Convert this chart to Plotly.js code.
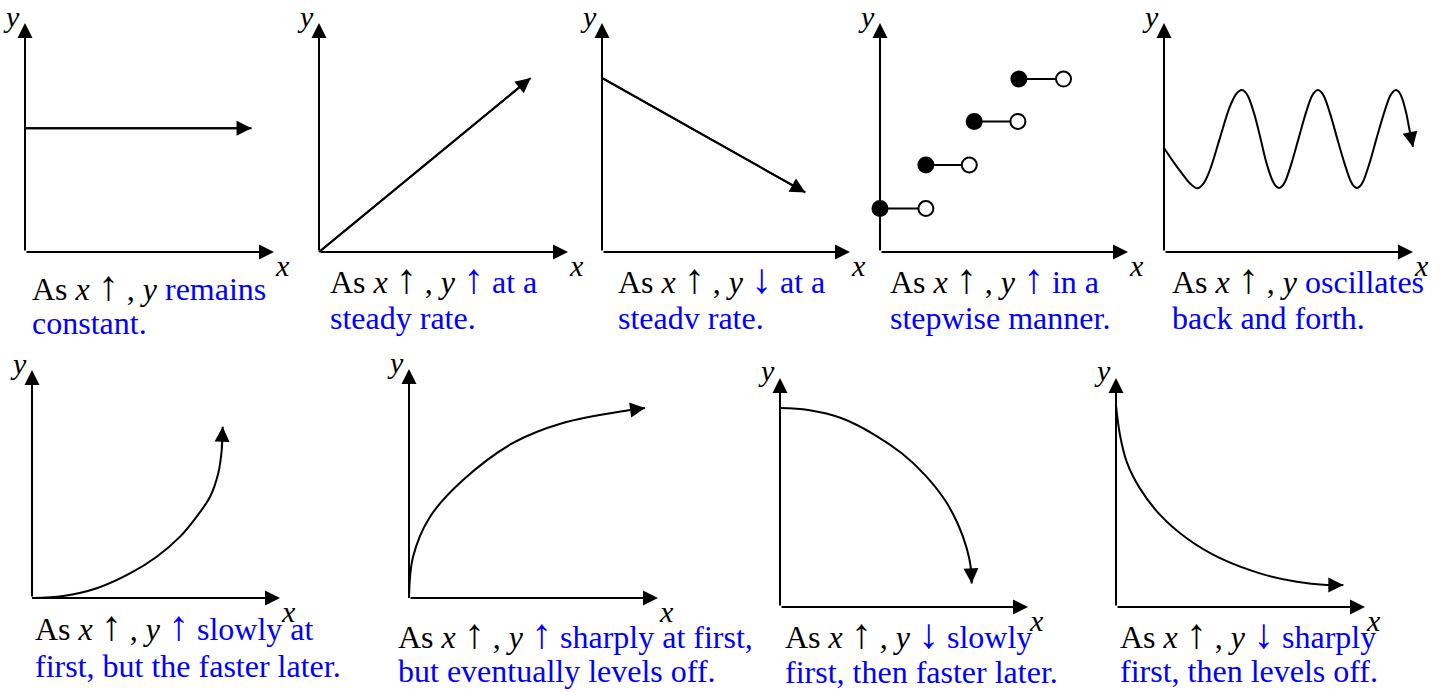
<!DOCTYPE html>
<html><head><meta charset="utf-8">
<script src="https://cdn.plot.ly/plotly-3.0.1.min.js"></script>
<style>html,body{margin:0;padding:0;background:#fff;overflow:hidden}#chart{width:1441px;height:692px}</style>
</head><body><div id="chart"></div>
<script>
// ---------- data (axis units: 0..100 from origin to axis arrow tip) ----------
// Panel 1: y remains constant
const constX = [0, 91];
const constY = [54, 54];
// Panel 2: y rises at a steady rate
const steadyUpX = [0, 85];
const steadyUpY = [0, 76];
// Panel 3: y falls at a steady rate
const steadyDownX = [0, 82];
const steadyDownY = [76, 26];
// Panel 4: stepwise
const stepStartX = [0, 18.5, 38, 56];
const stepEndX = [18.5, 36, 55.6, 74];
const stepY = [19, 38, 57, 75.5];
// Panel 5: oscillation (points read along the drawn wave)
const waveX = [0, 3.7, 7.8, 10.6, 13.4, 15.9, 18.4, 22.35,
  26.3, 28.8, 30.1, 31.3, 32.5, 33.8, 36.3, 38.8, 41.2, 43.7, 45, 46.2, 47.4, 48.7, 51.2, 54,
  56.8, 59.3, 60.6, 61.8, 63, 64.3, 66.8, 69.6, 72.5, 75, 76.3, 77.5, 78.7, 80, 82.5, 85.3,
  88.2, 90.7, 92, 93.2, 94.4, 95.6, 97.2, 98.6, 100];
const waveY = [45.4, 39.5, 33.5, 29.8, 27.8, 30.0, 35.7, 49.4,
  63.0, 68.7, 70.2, 70.7, 70, 67.9, 60.1, 49.4, 38.7, 30.9, 28.7, 28, 28.7, 30.9, 38.7, 49.4,
  60.1, 67.9, 70, 70.7, 70, 67.9, 60.1, 49.4, 38.7, 30.9, 28.7, 28, 28.7, 30.9, 38.7, 49.4,
  60.1, 67.9, 70, 70.7, 69.8, 67.2, 61, 53.3, 45.9];
// Panel 6: slowly at first, faster later
const growX = [0, 12.6, 26.1, 39.5, 50.3, 59.7, 66.4, 71.8, 75.1, 76.5, 76.9];
const growY = [0, 0.9, 4.3, 10.8, 18.1, 26.9, 35.7, 44.4, 54.7, 64.9, 75.1];
// Panel 7: sharply at first, levels off
const levelUpX = [0, 1.6, 8.4, 21.7, 41.8, 61.8, 88.8, 94.8];
const levelUpY = [0, 17.9, 35.4, 51.5, 67.7, 76.4, 82.1, 83];
// Panel 8: falls slowly first, faster later
const fallX = [0, 11.4, 24.9, 38.3, 49.1, 58.5, 66.5, 71.9, 75.3, 77.0, 77.3];
const fallY = [86.9, 86.0, 82.4, 75.1, 67.1, 57.6, 46.7, 35.8, 25.6, 16.9, 10.3];
// Panel 9: falls sharply first, levels off
const decayX = [0, 1.6, 4.3, 9.6, 17.7, 28.4, 41.8, 57.8, 72.6, 84.6, 91.3];
const decayY = [88, 75.1, 63.4, 51.8, 40.2, 30.0, 21.3, 14.7, 11.0, 9.6, 9.6];

// captions (black lead + blue description)
const captionArrow = ['', '↑', '↓', '↑', '', '↑', '↑', '↓', '↓'];
const captionLine1 = ['remains', 'at a', 'at a', 'in a', 'oscillates', 'slowly at', 'sharply at first,', 'slowly', 'sharply'];
const captionLine2 = ['constant.', 'steady rate.', 'steadv rate.', 'stepwise manner.', 'back and forth.',
  'first, but the faster later.', 'but eventually levels off.', 'first, then faster later.', 'first, then levels off.'];

// ---------- layout geometry (pixels) ----------
const W = 1441, H = 692, PAD = 8;
const panels = [
  {ox: 25, oy: 252, xt: 274, yt: 23},
  {ox: 319, oy: 252, xt: 568, yt: 23},
  {ox: 602, oy: 252, xt: 850, yt: 23},
  {ox: 880, oy: 252, xt: 1128, yt: 23},
  {ox: 1164, oy: 252, xt: 1413, yt: 23},
  {ox: 32, oy: 598, xt: 280, yt: 370},
  {ox: 409, oy: 598, xt: 658, yt: 369},
  {ox: 780, oy: 607, xt: 1028, yt: 378},
  {ox: 1116, oy: 607, xt: 1365, yt: 378}
];
const capPos = [
  {x: 30, y1: 286, y2: 323},
  {x: 328, y1: 279, y2: 318},
  {x: 616, y1: 279, y2: 318},
  {x: 888, y1: 279, y2: 318},
  {x: 1170, y1: 279, y2: 318},
  {x: 33, y1: 626, y2: 666},
  {x: 396, y1: 634, y2: 671},
  {x: 783, y1: 634, y2: 672},
  {x: 1118, y1: 634, y2: 671}
];

const BLACK = '#000000', BLUE = '#0000ff';
const SERIF = '"Liberation Serif", "Times New Roman", serif';
const CAP_SIZE = 32, LBL_SIZE = 30, ARROW_SIZE = 42;

const layout = {
  width: W, height: H,
  margin: {l: 0, r: 0, t: 0, b: 0, pad: 0},
  paper_bgcolor: '#ffffff', plot_bgcolor: 'rgba(0,0,0,0)',
  showlegend: false,
  annotations: []
};
const traces = [];
const ann = layout.annotations;

function refs(i) { const s = i === 0 ? '' : String(i + 1); return {x: 'x' + s, y: 'y' + s}; }
function arrow(r, tx, ty, hx, hy) {
  return {xref: r.x, yref: r.y, axref: r.x, ayref: r.y, x: hx, y: hy, ax: tx, ay: ty,
    text: '', showarrow: true, arrowhead: 2, arrowsize: 1.5, arrowwidth: 2,
    arrowcolor: BLACK, standoff: 0, startstandoff: 0};
}
function bigArrow(ch, color) {
  return '<span style="font-size:' + ARROW_SIZE + 'px;color:' + color + '">' + ch + '</span>';
}

panels.forEach((p, i) => {
  const s = i === 0 ? '' : String(i + 1);
  const wx = p.xt - p.ox, hy = p.oy - p.yt;
  layout['xaxis' + s] = {domain: [(p.ox - PAD / 100 * wx) / W, (p.xt + PAD / 100 * wx) / W],
    range: [-PAD, 100 + PAD], visible: false, fixedrange: true, anchor: 'y' + s};
  layout['yaxis' + s] = {domain: [1 - (p.oy + PAD / 100 * hy) / H, 1 - (p.yt - PAD / 100 * hy) / H],
    range: [-PAD, 100 + PAD], visible: false, fixedrange: true, anchor: 'x' + s};
  const r = refs(i);
  ann.push(arrow(r, 0, 0, 100, 0));
  ann.push(arrow(r, 0, 0, 0, 100));
  ann.push({xref: r.x, yref: r.y, x: 100, y: 0, xshift: 8, yshift: -13, text: '<i>x</i>', showarrow: false,
    font: {family: SERIF, size: LBL_SIZE, color: BLACK}});
  ann.push({xref: r.x, yref: r.y, x: 0, y: 100, xshift: -14, yshift: 7, text: '<i>y</i>', showarrow: false,
    font: {family: SERIF, size: LBL_SIZE, color: BLACK}});
  const c = capPos[i];
  const blueArrow = captionArrow[i] ? bigArrow(captionArrow[i], BLUE) + ' ' : '';
  ann.push({xref: 'paper', yref: 'paper', x: c.x / W, y: 1 - c.y1 / H, xanchor: 'left', yanchor: 'middle',
    showarrow: false, align: 'left',
    text: 'As <i>x</i> ' + bigArrow('↑', BLACK) + ' , <i>y</i> ' + blueArrow +
      '<span style="color:' + BLUE + '">' + captionLine1[i] + '</span>',
    font: {family: SERIF, size: CAP_SIZE, color: BLACK}});
  ann.push({xref: 'paper', yref: 'paper', x: c.x / W, y: 1 - c.y2 / H, xanchor: 'left', yanchor: 'middle',
    showarrow: false, align: 'left', text: captionLine2[i],
    font: {family: SERIF, size: CAP_SIZE, color: BLUE}});
});

// curve series with arrow heads at their ends
const series = [
  {panel: 0, x: constX, y: constY, spline: false},
  {panel: 1, x: steadyUpX, y: steadyUpY, spline: false},
  {panel: 2, x: steadyDownX, y: steadyDownY, spline: false},
  {panel: 4, x: waveX, y: waveY, spline: true},
  {panel: 5, x: growX, y: growY, spline: true},
  {panel: 6, x: levelUpX, y: levelUpY, spline: true},
  {panel: 7, x: fallX, y: fallY, spline: true},
  {panel: 8, x: decayX, y: decayY, spline: true}
];
series.forEach(sr => {
  const r = refs(sr.panel);
  traces.push({type: 'scatter', mode: 'lines', x: sr.x, y: sr.y, xaxis: r.x, yaxis: r.y,
    line: {color: BLACK, width: 2, shape: sr.spline ? 'spline' : 'linear', smoothing: 1},
    hoverinfo: 'skip'});
  const n = sr.x.length;
  ann.push(arrow(r, sr.x[n - 2], sr.y[n - 2], sr.x[n - 1], sr.y[n - 1]));
});

// stepwise panel
(function () {
  const r = refs(3);
  const lx = [], ly = [];
  stepY.forEach((v, k) => { lx.push(stepStartX[k], stepEndX[k], null); ly.push(v, v, null); });
  traces.push({type: 'scatter', mode: 'lines', x: lx, y: ly, xaxis: r.x, yaxis: r.y,
    line: {color: BLACK, width: 2}, hoverinfo: 'skip'});
  traces.push({type: 'scatter', mode: 'markers', x: stepEndX, y: stepY, xaxis: r.x, yaxis: r.y, cliponaxis: false,
    marker: {size: 15, color: '#ffffff', line: {color: BLACK, width: 2}}, hoverinfo: 'skip'});
  traces.push({type: 'scatter', mode: 'markers', x: stepStartX, y: stepY, xaxis: r.x, yaxis: r.y, cliponaxis: false,
    marker: {size: 17, color: BLACK, line: {width: 0}}, hoverinfo: 'skip'});
})();

Plotly.newPlot('chart', traces, layout, {staticPlot: true, displayModeBar: false});
</script>
</body></html>
